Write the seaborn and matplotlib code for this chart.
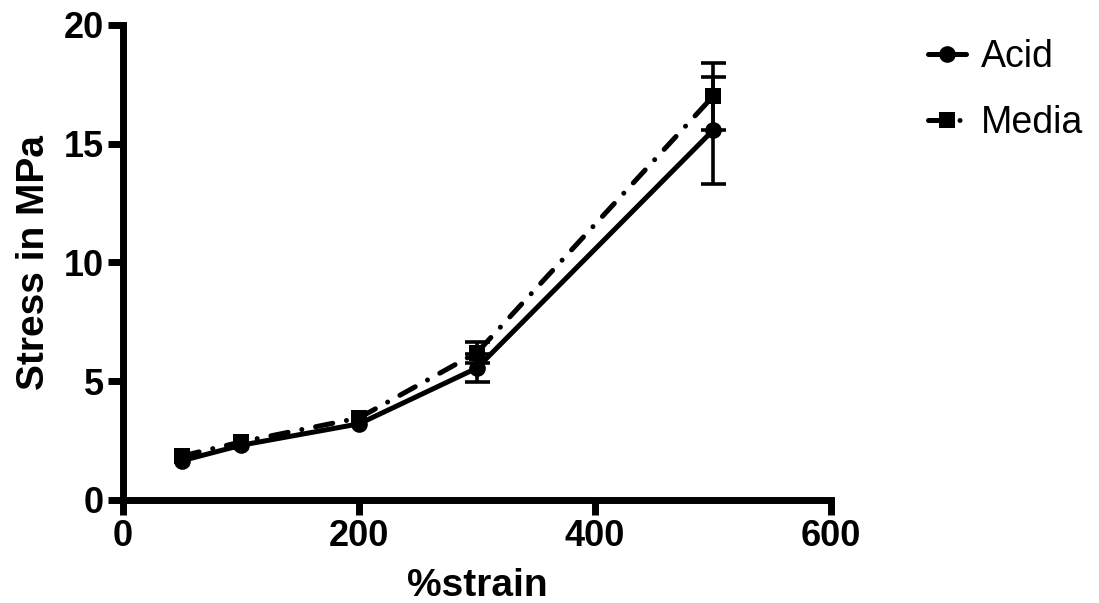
import matplotlib
matplotlib.use("Agg")
import matplotlib.pyplot as plt
import seaborn as sns
import pandas as pd

strain = [50, 100, 200, 300, 500]
acid = [1.65, 2.3, 3.2, 5.55, 15.55]
acid_err = [0, 0, 0, 0.6, 2.25]
media = [1.85, 2.44, 3.45, 6.2, 16.98]
media_err = [0, 0, 0, 0.45, 1.4]
x_ticks = [0, 200, 400, 600]
y_ticks = [0, 5, 10, 15, 20]

sns.set_theme(style="ticks")
plt.rcParams['font.family'] = ['Liberation Sans', 'DejaVu Sans']
plt.rcParams['text.color'] = 'black'
plt.rcParams['axes.labelcolor'] = 'black'
plt.rcParams['xtick.color'] = 'black'
plt.rcParams['ytick.color'] = 'black'

df = pd.DataFrame({
    "%strain": strain * 2,
    "Stress": acid + media,
    "Group": ["Acid"] * len(strain) + ["Media"] * len(strain),
})

fig = plt.figure(figsize=(10.99, 6.03), dpi=100)
ax = fig.add_axes([0.112, 0.171, 0.644, 0.788])

lw = 3.6
for vals, errs in [(acid, acid_err), (media, media_err)]:
    xs = [x for x, e in zip(strain, errs) if e > 0]
    ys = [v for v, e in zip(vals, errs) if e > 0]
    es = [e for e in errs if e > 0]
    ax.errorbar(xs, ys, yerr=es, fmt='none', ecolor='black',
                elinewidth=2.6, capsize=9, capthick=2.6, zorder=2)

sns.lineplot(data=df, x="%strain", y="Stress", hue="Group", style="Group",
             palette={"Acid": "black", "Media": "black"},
             markers={"Acid": "o", "Media": "s"},
             dashes={"Acid": "", "Media": (3.5, 2.8, 0.01, 2.8)},
             linewidth=lw, markersize=12, markeredgewidth=0,
             dash_capstyle='round',
             ax=ax, zorder=3, legend=True)

ax.set_xlim(0, 600)
ax.set_ylim(0, 20)
ax.set_xticks(x_ticks)
ax.set_yticks(y_ticks)
ax.set_xlabel("%strain", fontsize=28, fontweight='bold', labelpad=10)
ax.set_ylabel("Stress in MPa", fontsize=28, fontweight='bold', labelpad=8)
for lab in ax.get_xticklabels() + ax.get_yticklabels():
    lab.set_fontweight('bold')
    lab.set_fontsize(26)
ax.tick_params(axis='both', width=5, length=11, color='black', pad=3)
for s in ['left', 'bottom']:
    ax.spines[s].set_linewidth(5)
    ax.spines[s].set_color('black')
    ax.spines[s].set_capstyle('projecting')
for s in ['top', 'right']:
    ax.spines[s].set_visible(False)

leg = ax.legend(loc='upper left', bbox_to_anchor=(1.09, 1.04), frameon=False,
                fontsize=27, handlelength=1.0, handletextpad=0.4,
                labelspacing=0.8)
for h in leg.legend_handles:
    h.set_linewidth(lw)
    h.set_markersize(12)

fig.savefig("out.png", dpi=100)
